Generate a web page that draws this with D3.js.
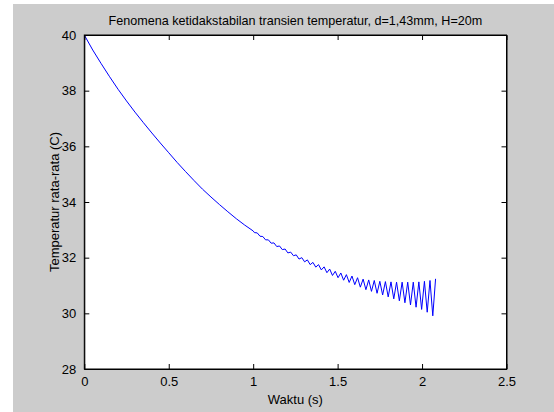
<!DOCTYPE html>
<html lang="en">
<head>
    <meta charset="UTF-8">
    <title>Fenomena ketidakstabilan</title>
    <script src="https://d3js.org/d3.v7.min.js"></script>
    <style>
        body { margin: 0; background: #ffffff; }
        text { font-family: "Liberation Sans", Arial, sans-serif; fill: #000; }
    </style>
</head>
<body>
    <div id="chart"></div>
    <script>
        // data
        var waktu = [
            0, 0.05, 0.10, 0.15, 0.20, 0.25, 0.30, 0.35, 0.40, 0.45, 0.50,
            0.55, 0.60, 0.65, 0.70, 0.75, 0.80, 0.85, 0.90, 0.95, 1.00,
            1.0075, 1.024, 1.0405, 1.057, 1.0735, 1.09, 1.1065, 1.123, 1.1395, 1.156, 1.1725, 1.189,
            1.2055, 1.222, 1.2385, 1.255, 1.2715, 1.288, 1.3045, 1.321, 1.3375, 1.354,
            1.3705, 1.387, 1.4035, 1.42, 1.4365, 1.453, 1.4695, 1.486, 1.5025, 1.519,
            1.5355, 1.552, 1.5685, 1.585, 1.6015, 1.618, 1.6345, 1.651, 1.6675, 1.684,
            1.7005, 1.717, 1.7335, 1.75, 1.7665, 1.783, 1.7995, 1.816, 1.8325, 1.849,
            1.8655, 1.882, 1.8985, 1.915, 1.9315, 1.948, 1.9645, 1.981, 1.9975, 2.014,
            2.0305, 2.047, 2.0635, 2.08
        ];
        var suhu = [
            40.00, 39.46, 38.97, 38.50, 38.05, 37.63, 37.23, 36.85, 36.48, 36.12, 35.77,
            35.42, 35.09, 34.77, 34.46, 34.18, 33.91, 33.65, 33.40, 33.17, 32.96,
            32.90, 32.89, 32.77, 32.76, 32.64, 32.64, 32.52, 32.53, 32.40, 32.42, 32.29, 32.31,
            32.17, 32.20, 32.07, 32.10, 31.95, 32.00, 31.85, 31.92, 31.75, 31.83,
            31.66, 31.75, 31.56, 31.67, 31.46, 31.59, 31.36, 31.51, 31.28, 31.45,
            31.19, 31.39, 31.11, 31.34, 31.03, 31.28, 30.94, 31.23, 30.85, 31.20,
            30.79, 31.18, 30.72, 31.15, 30.66, 31.14, 30.59, 31.13, 30.52, 31.12,
            30.45, 31.12, 30.38, 31.12, 30.30, 31.12, 30.22, 31.13, 30.14, 31.15,
            30.04, 31.18, 29.91, 31.24
        ];
        var xTicks = [0, 0.5, 1, 1.5, 2, 2.5];
        var yTicks = [28, 30, 32, 34, 36, 38, 40];

        var W = 554, H = 412;
        var margin = { top: 35, right: 47.5, bottom: 43, left: 84.3 },
            width = W - margin.left - margin.right,
            height = H - margin.top - margin.bottom;

        var svg = d3.select("#chart")
            .append("svg")
            .attr("width", W)
            .attr("height", H);

        // figure background
        svg.append("rect")
            .attr("x", 13).attr("y", 4)
            .attr("width", W - 13).attr("height", H - 4)
            .attr("fill", "#cccccc");

        var g = svg.append("g")
            .attr("transform", "translate(" + margin.left + "," + margin.top + ")");

        g.append("rect")
            .attr("width", width).attr("height", height)
            .attr("fill", "#ffffff");

        var x = d3.scaleLinear().domain([0, 2.5]).range([0, width]);
        var y = d3.scaleLinear().domain([28, 40]).range([height, 0]);

        // line
        var line = d3.line()
            .x(function (d) { return x(d[0]); })
            .y(function (d) { return y(d[1]); });

        g.append("path")
            .datum(d3.zip(waktu, suhu))
            .attr("fill", "none")
            .attr("stroke", "#0000ff")
            .attr("stroke-width", 1)
            .attr("d", line);

        // axes, ticks pointing inward like matlab
        var tk = 5;
        g.append("g")
            .attr("transform", "translate(0," + height + ")")
            .call(d3.axisBottom(x).tickValues(xTicks).tickSizeInner(-tk).tickSizeOuter(0).tickPadding(8)
                .tickFormat(function (d) { return d; }));
        g.append("g")
            .call(d3.axisTop(x).tickValues(xTicks).tickSizeInner(-tk).tickSizeOuter(0).tickFormat(""));
        g.append("g")
            .call(d3.axisLeft(y).tickValues(yTicks).tickSizeInner(-tk).tickSizeOuter(0).tickPadding(8));
        g.append("g")
            .attr("transform", "translate(" + width + ",0)")
            .call(d3.axisRight(y).tickValues(yTicks).tickSizeInner(-tk).tickSizeOuter(0).tickFormat(""));

        g.selectAll(".domain").attr("stroke", "#000");
        g.selectAll(".tick line").attr("stroke", "#000");
        g.selectAll(".tick text")
            .style("font-family", "'Liberation Sans', Arial, sans-serif")
            .style("font-size", "13px");

        // box
        g.append("rect")
            .attr("width", width).attr("height", height)
            .attr("fill", "none")
            .attr("stroke", "#000")
            .attr("stroke-width", 1);

        // labels
        g.append("text")
            .attr("x", width / 2).attr("y", -10)
            .attr("text-anchor", "middle")
            .style("font-size", "12.6px")
            .text("Fenomena ketidakstabilan transien temperatur, d=1,43mm, H=20m");

        g.append("text")
            .attr("x", width / 2).attr("y", height + 35)
            .attr("text-anchor", "middle")
            .style("font-size", "13px")
            .text("Waktu (s)");

        g.append("text")
            .attr("transform", "translate(" + (-25) + "," + (height / 2) + ") rotate(-90)")
            .attr("text-anchor", "middle")
            .style("font-size", "13px")
            .text("Temperatur rata-rata (C)");
    </script>
</body>
</html>
